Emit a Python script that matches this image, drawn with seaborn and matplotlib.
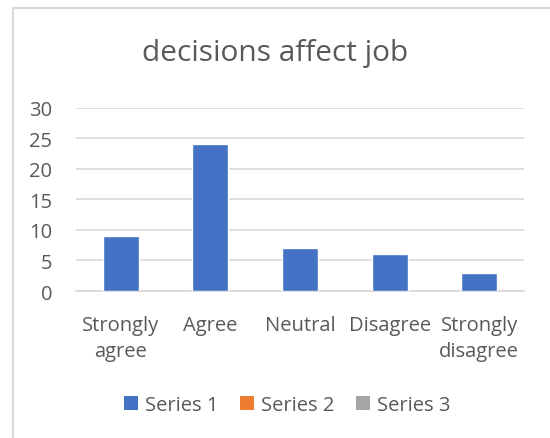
import matplotlib
matplotlib.use("Agg")
import matplotlib.pyplot as plt
from matplotlib.patches import Patch
from matplotlib.lines import Line2D
import seaborn as sns
import pandas as pd

categories = ["Strongly\nagree", "Agree", "Neutral", "Disagree", "Strongly\ndisagree"]
series1 = [9, 24, 7, 6, 3]
series_names = ["Series 1", "Series 2", "Series 3"]
series_colors = ["#4472C4", "#ED7D31", "#A5A5A5"]
yticks = [0, 5, 10, 15, 20, 25, 30]

sns.set_theme(style="white")
plt.rcParams["font.family"] = ["Open Sans", "DejaVu Sans"]
text_color = "#595959"
grid_color = "#D9D9D9"

df = pd.DataFrame({"category": categories, "value": series1})

fig = plt.figure(figsize=(5.5, 4.39), dpi=100)
ax = fig.add_axes([76 / 550, 1 - 292 / 439, 448 / 550, 183.5 / 439])

sns.barplot(data=df, x="category", y="value", color=series_colors[0],
            width=0.4, saturation=1, ax=ax, zorder=3)

ax.set_ylim(0, 30)
ax.set_xlim(-0.5, len(categories) - 0.5)
ax.set_yticks(yticks)
ax.set_yticklabels([str(t) for t in yticks])
ax.yaxis.grid(True, color=grid_color, linewidth=1.2, zorder=0)
for s in ["top", "right", "left"]:
    ax.spines[s].set_visible(False)
ax.spines["bottom"].set_color(grid_color)
ax.spines["bottom"].set_linewidth(1.2)
ax.tick_params(axis="both", length=0, labelsize=14.5, labelcolor=text_color)
ax.tick_params(axis="y", pad=17)
ax.tick_params(axis="x", pad=17)
for lbl in ax.get_xticklabels():
    lbl.set_linespacing(1.45)
ax.set_xlabel("")
ax.set_ylabel("")

fig.text(0.5, 1 - 53 / 439, "decisions affect job", ha="center", va="center",
         fontsize=21.5, color=text_color)

handles = [Patch(facecolor=c, edgecolor="none") for c in series_colors]
fig.legend(handles, series_names, loc="center", bbox_to_anchor=(0.522, 1 - 406 / 439),
           ncol=3, frameon=False, fontsize=14.5, labelcolor=text_color,
           handlelength=0.7, handleheight=0.7, handletextpad=0.35, columnspacing=1.05)

# chart area border (left and top edges)
fig.add_artist(Line2D([12.5 / 550, 12.5 / 550], [0, 1 - 8.5 / 439],
                      transform=fig.transFigure, color=grid_color, linewidth=1.5))
fig.add_artist(Line2D([12.5 / 550, 1], [1 - 8.5 / 439, 1 - 8.5 / 439],
                      transform=fig.transFigure, color=grid_color, linewidth=1.5))

fig.savefig("out.png", dpi=100, facecolor="white")
